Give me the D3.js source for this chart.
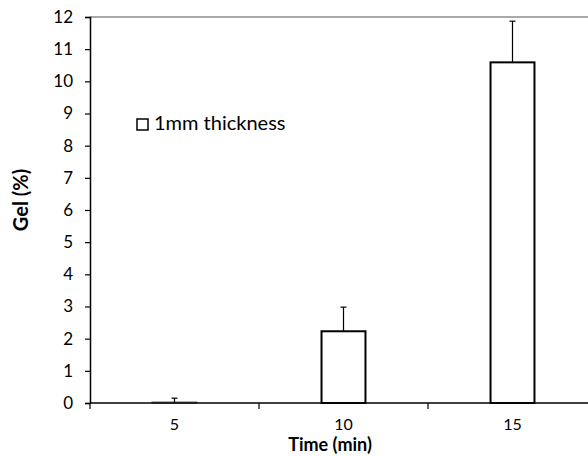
<!DOCTYPE html>
<html>
<head>
<meta charset="utf-8">
<script src="https://cdn.jsdelivr.net/npm/d3@7"></script>
<style>
  body { margin: 0; background: #fff; }
  svg text { font-family: Lato, "Open Sans", sans-serif; fill: #000; }
</style>
</head>
<body>
<svg id="chart"></svg>
<script>
// values
let times = ["5", "10", "15"]
let gel = [0.02, 2.23, 10.59]
let gelErr = [0.13, 0.75, 1.28]
let yTicks = [0, 1, 2, 3, 4, 5, 6, 7, 8, 9, 10, 11, 12]

let
  width = 588,
  height = 456,
  plotLeft = 90,
  plotRight = 597,
  plotTop = 17,
  plotBottom = 403

let svg = d3.select("#chart")
  .attr("width", width)
  .attr("height", height)

let x = d3.scaleBand()
  .domain(times)
  .range([plotLeft, plotRight])
  .paddingInner(0.74)
  .paddingOuter(0.37)

let y = d3.scaleLinear()
  .domain([0, 12])
  .range([plotBottom, plotTop])

// top border of plot area
svg.append("line")
  .attr("x1", plotLeft).attr("x2", width)
  .attr("y1", y(12)).attr("y2", y(12))
  .attr("stroke", "#8c8c8c")
  .attr("stroke-width", 1.5)

// bars
svg.selectAll(".bar")
  .data(times).enter()
  .append("rect")
  .attr("class", "bar")
  .attr("x", d => x(d))
  .attr("y", (d, i) => y(gel[i]))
  .attr("width", x.bandwidth())
  .attr("height", (d, i) => y(0) - y(gel[i]))
  .attr("fill", "#fff")
  .attr("stroke", (d, i) => i == 0 ? "#888" : "#000")
  .attr("stroke-width", 2)

// error bars (upper only)
let err = svg.selectAll(".err")
  .data(times).enter()
  .append("g")
  .attr("class", "err")

err.append("line")
  .attr("x1", d => x(d) + x.bandwidth() / 2)
  .attr("x2", d => x(d) + x.bandwidth() / 2)
  .attr("y1", (d, i) => y(gel[i]))
  .attr("y2", (d, i) => y(gel[i] + gelErr[i]))
  .attr("stroke", "#000")
  .attr("stroke-width", 1.2)

err.append("line")
  .attr("x1", d => x(d) + x.bandwidth() / 2 - 3)
  .attr("x2", d => x(d) + x.bandwidth() / 2 + 3)
  .attr("y1", (d, i) => y(gel[i] + gelErr[i]))
  .attr("y2", (d, i) => y(gel[i] + gelErr[i]))
  .attr("stroke", "#000")
  .attr("stroke-width", 1.2)

// y axis
let yAxis = svg.append("g")
  .attr("transform", `translate(${plotLeft},0)`)
  .call(d3.axisLeft(y).tickValues(yTicks).tickSize(5).tickPadding(12).tickFormat(d3.format("d")))
yAxis.select(".domain").attr("stroke", "#000").attr("stroke-width", 1.5)
yAxis.selectAll(".tick line").attr("stroke", "#000").attr("stroke-width", 1.2)
yAxis.selectAll("text").style("font-size", "17px")

// x axis: ticks sit between categories
let xAxis = svg.append("g")
  .attr("transform", `translate(0,${plotBottom})`)
xAxis.append("line")
  .attr("x1", plotLeft).attr("x2", width)
  .attr("stroke", "#000").attr("stroke-width", 1.5)

let step = x.step()
let edges = times.map(d => x(d) - (step - x.bandwidth()) / 2)
xAxis.selectAll(".xtick")
  .data(edges).enter()
  .append("line")
  .attr("x1", d => d).attr("x2", d => d)
  .attr("y1", 0).attr("y2", 6)
  .attr("stroke", "#000").attr("stroke-width", 1.2)

xAxis.selectAll(".xlabel")
  .data(times).enter()
  .append("text")
  .attr("x", d => x(d) + x.bandwidth() / 2)
  .attr("y", 27)
  .attr("text-anchor", "middle")
  .style("font-size", "16px")
  .text(d => d)

// axis titles
svg.append("text")
  .attr("x", 330).attr("y", 451)
  .attr("text-anchor", "middle")
  .style("font-size", "18px")
  .style("font-weight", "bold")
  .text("Time (min)")

svg.append("text")
  .attr("transform", "translate(28,200) rotate(-90)")
  .attr("text-anchor", "middle")
  .style("font-size", "20px")
  .style("font-weight", "bold")
  .text("Gel (%)")

// legend
let legend = svg.append("g")
  .attr("transform", "translate(137,119)")
legend.append("rect")
  .attr("width", 11).attr("height", 11)
  .attr("fill", "#fff")
  .attr("stroke", "#000")
  .attr("stroke-width", 1.5)
legend.append("text")
  .attr("x", 17).attr("y", 11)
  .style("font-size", "20px")
  .text("1mm thickness")
</script>
</body>
</html>
